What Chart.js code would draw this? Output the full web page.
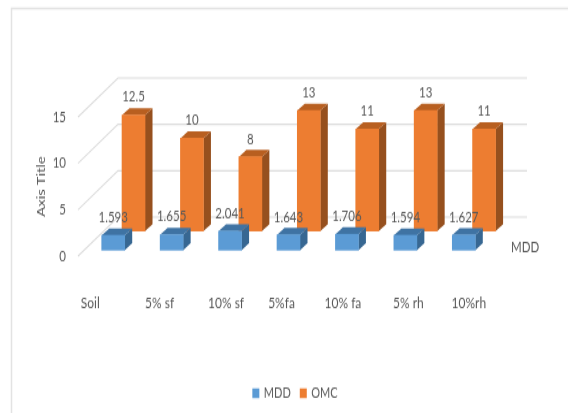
<!DOCTYPE html>
<html>
<head>
<meta charset="utf-8">
<style>
html,body{margin:0;padding:0;background:#fff;overflow:hidden;width:568px;height:413px}
canvas{display:block;transform-origin:0 0;transform:scaleY(1.3);filter:blur(0.3px)}
</style>
<script src="https://cdn.jsdelivr.net/npm/chart.js@4/dist/chart.umd.min.js"></script>
</head>
<body>
<canvas id="c" width="568" height="318"></canvas>
<script>
const categories = ["Soil","5% sf","10% sf","5%fa","10% fa","5% rh","10%rh"];
const mddValues = [1.593,1.655,2.041,1.643,1.706,1.594,1.627];
const omcValues = [12.5,10,8,13,11,13,11];
const mddLabels = ["1.593","1.655","2.041","1.643","1.706","1.594","1.627"];
const omcLabels = ["12.5","10","8","13","11","13","11"];
const yTicks = [0,5,10,15];

const K = 1.3;
const TEXT = "#595959", GRID = "#dcdcdc";
const FONT = 'Lato,sans-serif';
const labelNudge = [-17,-6,2,-1,2,9,11];
const depthShift = [{dx:6,dy:-6/K},{dx:26.3,dy:-25/K}];
const faces = [{top:"#3F73A3",side:"#376792"},{top:"#B85F20",side:"#96501E"}];
const datasetLabels = [mddLabels,omcLabels];
const wall = {dx:40,dy:-39/K};
const legendShift = 52;

const plugin3d = {
  id:"plugin3d",
  afterLayout(chart){
    chart.legend.left += legendShift;
    chart.legend.right += legendShift;
  },
  beforeDatasetsDraw(chart){
    const {ctx,scales:{x,y}} = chart;
    ctx.save();
    ctx.strokeStyle="#e3e3e3"; ctx.lineWidth=1.5;
    ctx.beginPath();
    ctx.moveTo(568,8.5/K); ctx.lineTo(11.5,8.5/K); ctx.lineTo(11.5,318);
    ctx.stroke();
    ctx.strokeStyle=GRID; ctx.lineWidth=1.1;
    yTicks.forEach(v=>{
      const py=y.getPixelForValue(v);
      ctx.beginPath();
      ctx.moveTo(x.left,py);
      ctx.lineTo(x.left+wall.dx,py+wall.dy);
      ctx.lineTo(x.right+wall.dx,py+wall.dy);
      ctx.stroke();
    });
    ctx.restore();
  },
  beforeDatasetDraw(chart,args){
    const s=depthShift[args.index], {ctx}=chart;
    ctx.save();
    ctx.translate(s.dx,s.dy);
    const d=7.5,e=7/K;
    args.meta.data.forEach(b=>{
      const p=b.getProps(["x","y","base","width"],true);
      const l=p.x-p.width/2,r=p.x+p.width/2;
      ctx.fillStyle=faces[args.index].side;
      ctx.beginPath();
      ctx.moveTo(r,p.y);ctx.lineTo(r+d,p.y-e);ctx.lineTo(r+d,p.base-e);ctx.lineTo(r,p.base);
      ctx.closePath();ctx.fill();
      ctx.fillStyle=faces[args.index].top;
      ctx.beginPath();
      ctx.moveTo(l,p.y);ctx.lineTo(r,p.y);ctx.lineTo(r+d,p.y-e);ctx.lineTo(l+d,p.y-e);
      ctx.closePath();ctx.fill();
    });
  },
  afterDatasetDraw(chart){ chart.ctx.restore(); },
  afterDatasetsDraw(chart){
    const {ctx,scales:{x,y}}=chart;
    ctx.save();
    ctx.fillStyle=TEXT;
    ctx.textAlign="center"; ctx.textBaseline="middle";
    ctx.font='11.5px '+FONT;
    chart.data.datasets.forEach((ds,i)=>{
      const s=depthShift[i];
      chart.getDatasetMeta(i).data.forEach((b,j)=>{
        ctx.fillText(datasetLabels[i][j],b.x+s.dx,b.y+s.dy-18/K);
      });
    });
    ctx.font='12px '+FONT;
    categories.forEach((c,i)=>{
      ctx.fillText(c,x.getPixelForValue(i)+labelNudge[i],y.getPixelForValue(0)+47/K);
    });
    ctx.font='11.5px '+FONT;
    ctx.textAlign="left";
    ctx.fillText(chart.data.datasets[0].label,x.right+24,y.getPixelForValue(0)-9.3/K);
    ctx.restore();
  }
};

new Chart(document.getElementById("c"),{
  type:"bar",
  data:{labels:categories,datasets:[
    {label:"MDD",data:mddValues,backgroundColor:"#5B9BD5",barThickness:23,grouped:false,clip:false},
    {label:"OMC",data:omcValues,backgroundColor:"#ED7D31",barThickness:23,grouped:false,clip:false}
  ]},
  options:{
    responsive:false,animation:false,
    layout:{padding:{top:117/K,right:81,left:0,bottom:0}},
    plugins:{
      tooltip:{enabled:false},
      legend:{position:"bottom",labels:{boxWidth:5,boxHeight:5.7,padding:10,color:TEXT,font:{family:FONT,size:11},
        generateLabels(chart){
          return Chart.defaults.plugins.legend.labels.generateLabels(chart).map((it,i)=>
            Object.assign(it,{lineWidth:2,strokeStyle:chart.data.datasets[i].backgroundColor}));
        }}}
    },
    scales:{
      x:{grid:{display:false,drawTicks:false},border:{display:false},ticks:{display:false},
         afterFit(s){s.height=90;}},
      y:{min:0,max:15,grid:{display:false,drawTicks:false},border:{display:false},
         afterBuildTicks(s){s.ticks=yTicks.map(v=>({value:v}));},
         afterFit(s){s.width=78;},
         ticks:{color:TEXT,padding:12,font:{family:FONT,size:11.5}},
         title:{display:true,text:"Axis Title",color:TEXT,padding:{top:34,bottom:0},font:{family:FONT,size:11.5}}}
    }
  },
  plugins:[plugin3d]
});
</script>
</body>
</html>
